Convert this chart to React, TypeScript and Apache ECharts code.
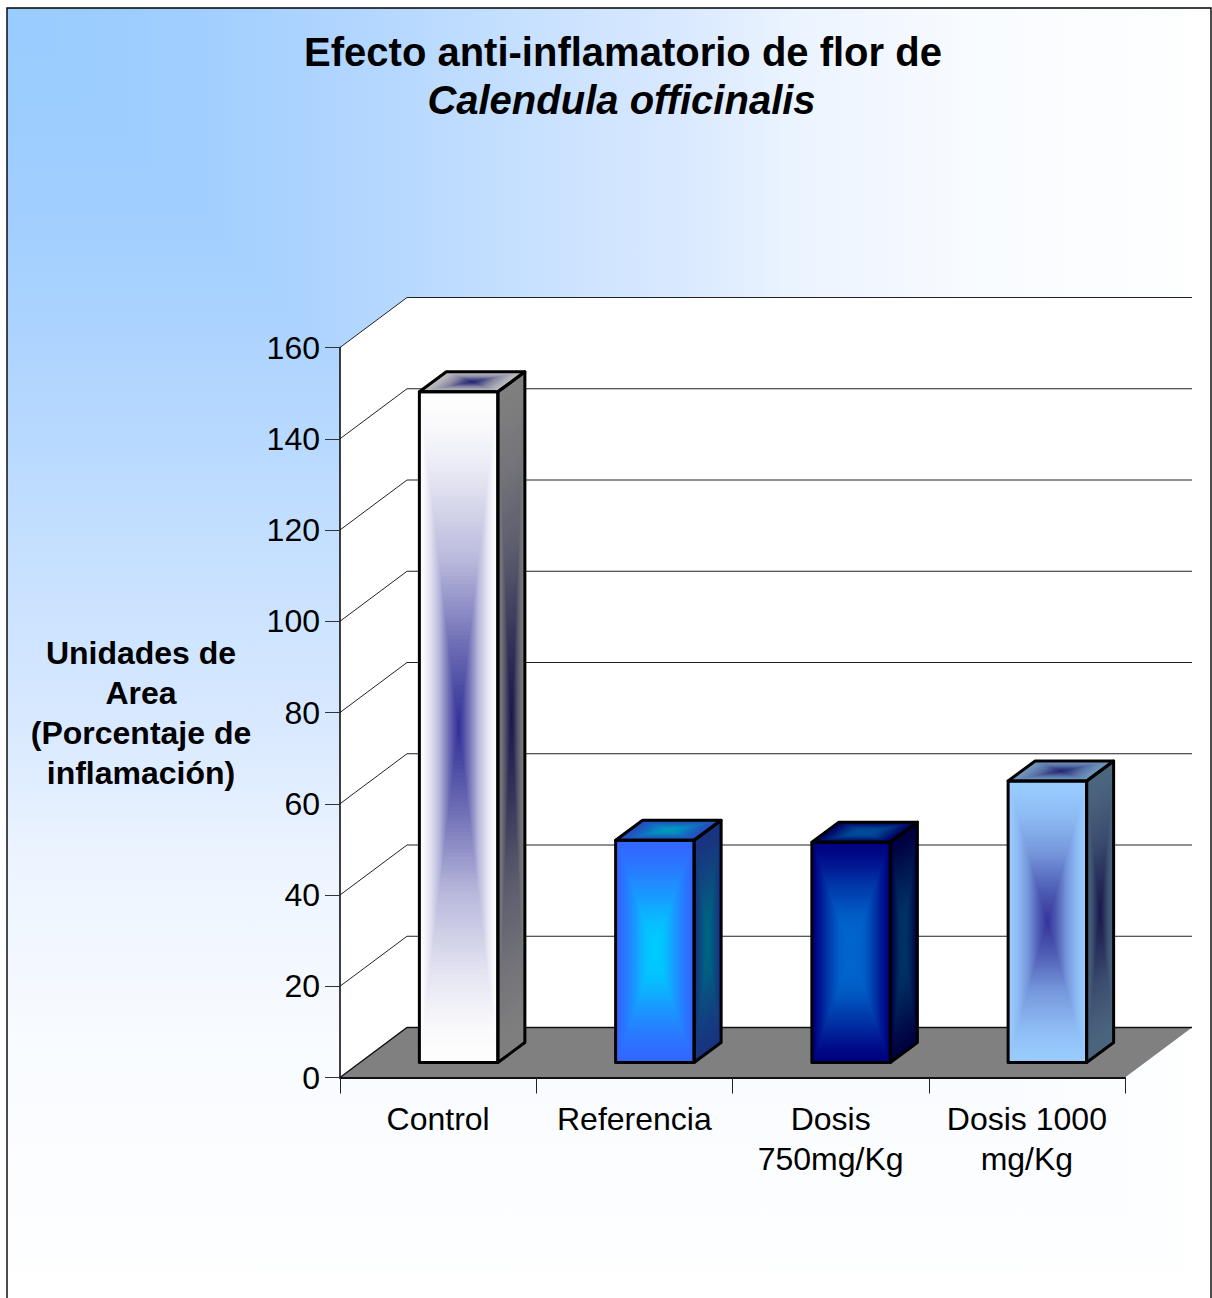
import React, { useEffect, useRef } from "react";
import * as echarts from "echarts";

const categories = ["Control", "Referencia", "Dosis\n750mg/Kg", "Dosis 1000\nmg/Kg"];
const areaValues = [147, 48.7, 48.3, 61.7];
const gridValues = [20, 40, 60, 80, 100, 120, 140, 160];

const edgeColors = ["#ffffff", "#3366ff", "#000080", "#99ccff"];
const coreColors = ["#2e2e96", "#00ccff", "#0066cc", "#333399"];
// How long each bar's core colour holds before it fades to the rim.
const coreHold = [1, 1.7, 2.8, 1];

const FONT = "Liberation Sans";
const WIDTH = 1212;
const HEIGHT = 1298;
const FLOOR_DX = 67;
const FLOOR_DY = -50;
const BAR_DX = 27;
const BAR_DY = -20;
const SIDE_SHADE = 0.5;
const TOP_SHADE = 0.75;
const STEPS = 80;

type Pt = number[];

const hexToRgb = (h: string) => [1, 3, 5].map((i) => parseInt(h.slice(i, i + 2), 16));

// Eased blend: the core colour fades quickly and the outer third stays close to the edge colour.
function ease(t: number) {
  const xs = [0, 0.25, 0.5, 0.75, 0.9, 1];
  const ys = [0, 0.3, 0.66, 0.88, 0.97, 1];
  for (let i = 1; i < xs.length; i++) {
    if (t <= xs[i]) return ys[i - 1] + ((t - xs[i - 1]) / (xs[i] - xs[i - 1])) * (ys[i] - ys[i - 1]);
  }
  return 1;
}

function blend(core: string, edge: string, t: number, shade: number, hold: number) {
  const a = hexToRgb(core);
  const b = hexToRgb(edge);
  const k = Math.pow(ease(t), hold);
  const c = a.map((v, i) => Math.round((v + (b[i] - v) * k) * shade));
  return `rgb(${c[0]},${c[1]},${c[2]})`;
}

// A parallelogram filled with a rectangular path gradient, as nested polygons from the rim inwards.
function pathGradientFace(o: Pt, u: Pt, v: Pt, core: string, edge: string, shade: number, hold: number) {
  const cx = o[0] + u[0] / 2 + v[0] / 2;
  const cy = o[1] + u[1] / 2 + v[1] / 2;
  const out: any[] = [];
  for (let i = 0; i < STEPS; i++) {
    const t = 1 - i / STEPS;
    const corner = (a: number, b: number) => [
      cx + (t * (a * u[0] + b * v[0])) / 2,
      cy + (t * (a * u[1] + b * v[1])) / 2,
    ];
    out.push({
      type: "polygon",
      silent: true,
      shape: { points: [corner(-1, -1), corner(1, -1), corner(1, 1), corner(-1, 1)] },
      style: { fill: blend(core, edge, t, shade, hold), stroke: null },
    });
  }
  return out;
}

const outline = (points: Pt[]) => ({
  type: "polygon",
  silent: true,
  shape: { points },
  style: { fill: "none", stroke: "#000", lineWidth: 3, lineJoin: "round" },
});

function renderBar(_params: any, api: any) {
  const cat = api.value(0);
  const base = api.coord([cat, 0]);
  const top = api.coord([cat, api.value(1)]);
  const w = api.size([1, 0])[0] * 0.4;
  const shiftX = (FLOOR_DX - BAR_DX) / 2 + 0.5;
  const shiftY = (FLOOR_DY - BAR_DY) / 2;
  const x0 = base[0] + shiftX - w / 2;
  const x1 = x0 + w;
  const yb = base[1] + shiftY;
  const yt = top[1] + shiftY;
  const core = coreColors[cat];
  const edge = edgeColors[cat];
  const hold = coreHold[cat];

  const front = [[x0, yt], [x1, yt], [x1, yb], [x0, yb]];
  const side = [[x1, yt], [x1 + BAR_DX, yt + BAR_DY], [x1 + BAR_DX, yb + BAR_DY], [x1, yb]];
  const lid = [[x0, yt], [x0 + BAR_DX, yt + BAR_DY], [x1 + BAR_DX, yt + BAR_DY], [x1, yt]];

  return {
    type: "group",
    children: [
      ...pathGradientFace([x1, yt], [BAR_DX, BAR_DY], [0, yb - yt], core, edge, SIDE_SHADE, hold),
      ...pathGradientFace([x0, yt], [BAR_DX, BAR_DY], [w, 0], core, edge, TOP_SHADE, hold),
      ...pathGradientFace([x0, yt], [w, 0], [0, yb - yt], core, edge, 1, hold),
      outline(side),
      outline(lid),
      outline(front),
    ],
  };
}

function renderWalls(params: any, api: any) {
  const origin = api.coord([0, 0]);
  const left = params.coordSys.x;
  const right = left + params.coordSys.width;
  const y0 = origin[1];
  const yTop = api.coord([0, gridValues[gridValues.length - 1]])[1];
  const children: any[] = [
    {
      type: "polygon",
      silent: true,
      shape: {
        points: [
          [left, y0],
          [left, yTop],
          [left + FLOOR_DX, yTop + FLOOR_DY],
          [right + FLOOR_DX, yTop + FLOOR_DY],
          [right + FLOOR_DX, y0 + FLOOR_DY],
        ],
      },
      style: { fill: "#ffffff" },
    },
    {
      type: "polygon",
      silent: true,
      shape: {
        points: [
          [left, y0],
          [left + FLOOR_DX, y0 + FLOOR_DY],
          [right + FLOOR_DX, y0 + FLOOR_DY],
          [right, y0],
        ],
      },
      style: { fill: "#808080" },
    },
    {
      type: "polyline",
      silent: true,
      shape: {
        points: [
          [left, y0],
          [left + FLOOR_DX, y0 + FLOOR_DY],
          [right + FLOOR_DX, y0 + FLOOR_DY],
        ],
      },
      style: { fill: "none", stroke: "#111", lineWidth: 1.4 },
    },
  ];
  gridValues.forEach((val) => {
    const y = api.coord([0, val])[1];
    children.push({
      type: "polyline",
      silent: true,
      shape: {
        points: [
          [left, y],
          [left + FLOOR_DX, y + FLOOR_DY],
          [right + FLOOR_DX, y + FLOOR_DY],
        ],
      },
      style: { fill: "none", stroke: "#222", lineWidth: 1 },
    });
  });
  return { type: "group", children };
}

const backdropStops = [
  [0, "#99ccff"],
  [0.155, "#a0ceff"],
  [0.264, "#aed4ff"],
  [0.335, "#b8d9ff"],
  [0.44, "#c8e1ff"],
  [0.56, "#d9e9ff"],
  [0.66, "#ecf4ff"],
  [0.8, "#f8fbff"],
  [0.96, "#fdfeff"],
  [1, "#ffffff"],
].map(([offset, color]) => ({ offset: offset as number, color: color as string }));

export default function App() {
  const ref = useRef<HTMLDivElement>(null);

  useEffect(() => {
    const chart = echarts.init(ref.current!, null, { renderer: "svg", width: WIDTH, height: HEIGHT });
    const fx = 7;
    const fy = 8;
    const fr = 1211;
    chart.setOption({
      animation: false,
      backgroundColor: "#ffffff",
      title: [
        {
          text: "Efecto anti-inflamatorio de flor de",
          left: 618,
          top: 26.5,
          textAlign: "center",
          textStyle: { fontFamily: FONT, fontSize: 40, fontWeight: "bold", color: "#000" },
        },
        {
          text: "Calendula officinalis",
          left: 616.5,
          top: 75,
          textAlign: "center",
          textStyle: { fontFamily: FONT, fontSize: 40, fontWeight: "bold", fontStyle: "italic", color: "#000" },
        },
      ],
      graphic: {
        elements: [
          {
            type: "rect",
            z: -10,
            silent: true,
            shape: { x: fx, y: fy, width: fr - fx, height: HEIGHT - fy },
            style: { fill: new echarts.graphic.LinearGradient(0, 0, 1, 0, backdropStops) },
          },
          {
            type: "polygon",
            z: -9,
            silent: true,
            shape: { points: [[fx, fy], [fx, HEIGHT], [fr, HEIGHT]] },
            style: { fill: new echarts.graphic.LinearGradient(0, 0, 0, 1, backdropStops) },
          },
          {
            type: "polyline",
            z: -8,
            silent: true,
            shape: { points: [[fx, HEIGHT + 4], [fx, fy], [fr, fy], [fr, HEIGHT + 4]] },
            style: { fill: "none", stroke: "#000", lineWidth: 1.4 },
          },
        ],
      },
      grid: { left: 340, top: 347.5, width: 785, height: 730 },
      xAxis: {
        type: "category",
        data: categories,
        z: 5,
        axisLine: { show: true, onZero: false, lineStyle: { color: "#111", width: 2 } },
        axisTick: { show: true, alignWithLabel: false, length: 16, lineStyle: { color: "#222", width: 1 } },
        axisLabel: {
          interval: 0,
          margin: 21,
          color: "#000",
          fontFamily: FONT,
          fontSize: 32,
          lineHeight: 40,
        },
      },
      yAxis: {
        type: "value",
        min: 0,
        max: 160,
        interval: 20,
        z: 5,
        name: "Unidades de\nArea\n(Porcentaje de\ninflamación)",
        nameLocation: "middle",
        nameRotate: 0,
        nameGap: 199,
        nameTextStyle: {
          fontFamily: FONT,
          fontSize: 32,
          fontWeight: "bold",
          color: "#000",
          lineHeight: 40,
          align: "center",
          verticalAlign: "middle",
        },
        axisLine: { show: true, lineStyle: { color: "#000", width: 1.5 } },
        axisTick: { show: true, length: 15, lineStyle: { color: "#333", width: 1 } },
        axisLabel: { margin: 20, color: "#000", fontFamily: FONT, fontSize: 32, padding: [0, 0, 2, 0] },
        splitLine: { show: false },
      },
      series: [
        {
          type: "custom",
          name: "Paredes",
          z: 1,
          silent: true,
          renderItem: renderWalls,
          data: [[0, 0]],
          encode: { x: 0, y: 1 },
        },
        {
          type: "custom",
          name: "Unidades de Area",
          z: 3,
          silent: true,
          renderItem: renderBar,
          data: areaValues.map((v, i) => [i, v]),
          encode: { x: 0, y: 1 },
        },
      ],
    });
    return () => chart.dispose();
  }, []);

  return (
    <div
      ref={ref}
      style={{ position: "absolute", left: 0, top: 0, width: WIDTH, height: HEIGHT, overflow: "hidden" }}
    />
  );
}
